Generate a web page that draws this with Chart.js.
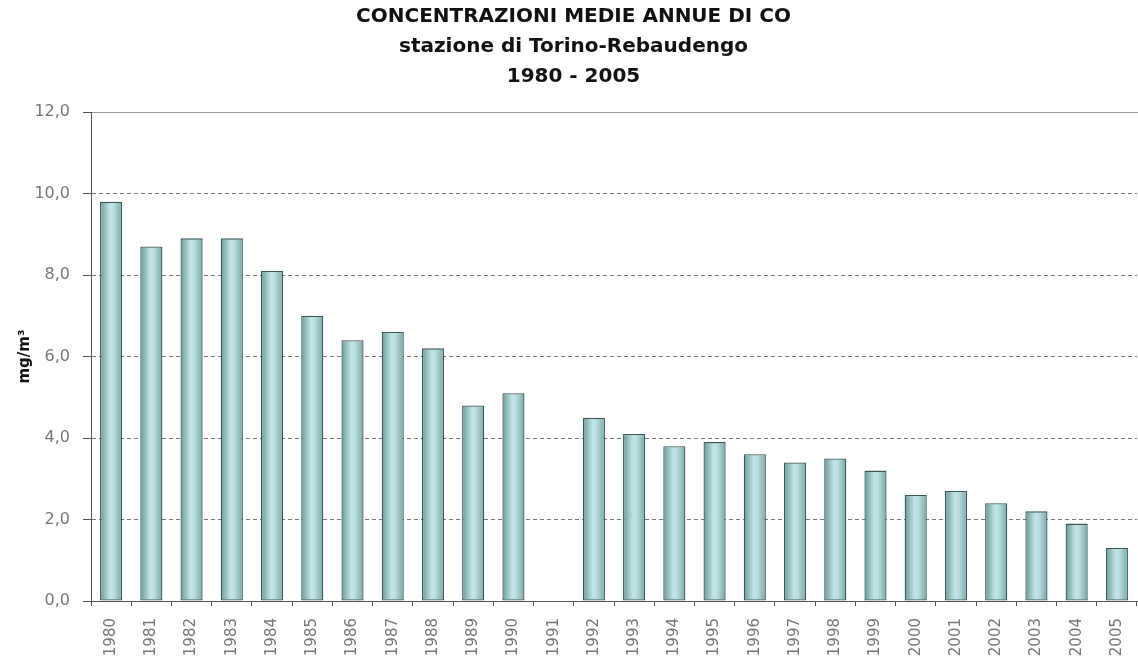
<!DOCTYPE html>
<html>
<head>
<meta charset="utf-8">
<script src="https://cdn.jsdelivr.net/npm/chart.js@4.4.1/dist/chart.umd.min.js"></script>
<style>
html,body{margin:0;padding:0;background:#fff;}
#wrap{width:1138px;height:661px;position:relative;}
</style>
</head>
<body>
<div id="wrap"><canvas id="c" width="1138" height="661"></canvas></div>
<script>
const years = ['1980','1981','1982','1983','1984','1985','1986','1987','1988','1989','1990','1991','1992','1993','1994','1995','1996','1997','1998','1999','2000','2001','2002','2003','2004','2005'];
const coValues = [9.8, 8.7, 8.9, 8.9, 8.1, 7.0, 6.4, 6.6, 6.2, 4.8, 5.1, null, 4.5, 4.1, 3.8, 3.9, 3.6, 3.4, 3.5, 3.2, 2.6, 2.7, 2.4, 2.2, 1.9, 1.3];
const titleLines = ['CONCENTRAZIONI MEDIE ANNUE DI CO', 'stazione di Torino-Rebaudengo', '1980 - 2005'];
const yTicks = [0, 2, 4, 6, 8, 10, 12];
const yTitle = 'mg/m³';

const BAR_PCT = 0.55;
function barGradient(ctx) {
  const chart = ctx.chart;
  const xs = chart.scales && chart.scales.x;
  if (!xs || ctx.dataIndex === undefined) return '#a9d2d2';
  const cx = xs.getPixelForValue(ctx.dataIndex);
  const w = (xs.width / years.length) * BAR_PCT;
  if (!isFinite(cx) || !isFinite(w) || w <= 0) return '#a9d2d2';
  const g = chart.ctx.createLinearGradient(cx - w / 2, 0, cx + w / 2, 0);
  g.addColorStop(0, '#6a9898');
  g.addColorStop(0.45, '#c3e5e5');
  g.addColorStop(0.6, '#bce0e0');
  g.addColorStop(1, '#79a7a7');
  return g;
}

new Chart(document.getElementById('c'), {
  type: 'bar',
  data: {
    labels: years,
    datasets: [{
      data: coValues,
      xAxisID: 'x',
      yAxisID: 'y',
      backgroundColor: barGradient,
      borderColor: '#3a5858',
      borderWidth: 1.3,
      borderSkipped: false,
      barPercentage: BAR_PCT,
      categoryPercentage: 1.0
    }]
  },
  options: {
    responsive: false,
    animation: false,
    devicePixelRatio: 1,
    layout: { padding: { left: 10, right: 1, top: 0, bottom: 4 } },
    plugins: {
      legend: { display: false },
      tooltip: { enabled: false },
      title: {
        display: true,
        text: titleLines,
        color: '#111',
        font: { family: 'DejaVu Sans', size: 20, weight: 'bold', lineHeight: 1.5 },
        padding: { top: 2, bottom: 12 }
      }
    },
    scales: {
      x: {
        type: 'category',
        position: 'bottom',
        offset: true,
        grid: { display: true, drawOnChartArea: false, offset: true, color: '#555', tickLength: 5, lineWidth: 1 },
        border: { display: true, color: '#555', width: 1 },
        ticks: {
          color: '#777',
          font: { family: 'DejaVu Sans', size: 15 },
          minRotation: 90, maxRotation: 90,
          padding: 12,
          autoSkip: false
        },
        afterFit: (s) => { s.height = 56; s.paddingLeft = 0; s.paddingRight = 0; }
      },
      xTop: {
        type: 'category',
        position: 'top',
        labels: years,
        grid: { display: false },
        ticks: { display: false },
        border: { display: true, color: '#999', width: 1 },
        afterFit: (s) => { s.paddingLeft = 0; s.paddingRight = 0; }
      },
      y: {
        min: 0,
        max: 12,
        afterBuildTicks: (s) => { s.ticks = yTicks.map(v => ({ value: v })); },
        grid: {
          color: (c) => (c.tick && (c.tick.value === 0 || c.tick.value === 12)) ? 'rgba(0,0,0,0)' : '#777',
          tickColor: '#555',
          tickLength: 8,
          lineWidth: 1
        },
        border: { display: true, color: '#555', width: 1, dash: [4, 3] },
        ticks: {
          color: '#777',
          font: { family: 'DejaVu Sans', size: 16 },
          padding: 13,
          callback: (v) => Number(v).toFixed(1).replace('.', ',')
        },
        title: {
          display: true,
          text: yTitle,
          color: '#111',
          font: { family: 'DejaVu Sans', size: 15, weight: 'bold' },
          padding: { top: 6, bottom: 0 }
        },
        afterFit: (s) => { s.width = 81; }
      }
    }
  }
});
</script>
</body>
</html>
